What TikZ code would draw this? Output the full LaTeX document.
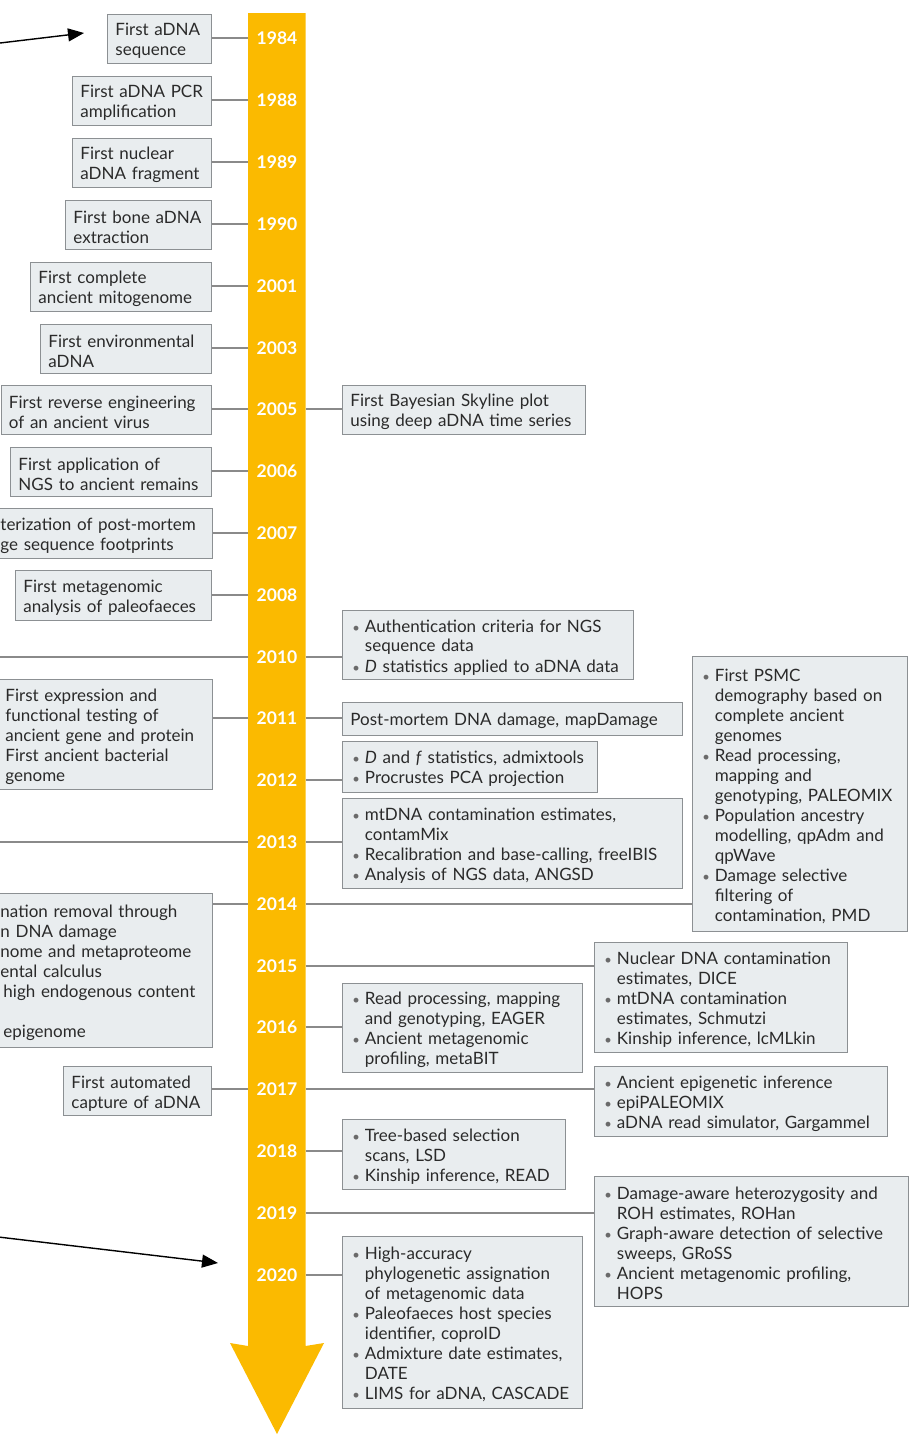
\documentclass[tikz,border=0pt]{standalone}
\usepackage{fontspec}
\usepackage{graphicx}
\setmainfont{Lato}
\usetikzlibrary{arrows.meta}
\definecolor{yel}{HTML}{FBBA00}
\definecolor{boxf}{HTML}{E9EDEF}
\definecolor{boxd}{HTML}{8C9093}
\definecolor{linec}{HTML}{8A8A8A}
\definecolor{txt}{HTML}{2A2A2A}
\definecolor{bulc}{HTML}{6A6A6A}
\newcommand\bu{\makebox[14.5pt][l]{\hspace{2pt}\textcolor{bulc}{\fontsize{13}{13}\selectfont\textbullet}}}
\newcommand\ci{\hspace*{14.5pt}}
\newcommand\tstrut{\rule{0pt}{17pt}}
\tikzset{
  bx/.style 2 args={draw=boxd, fill=boxf, line width=0.9pt, anchor=north west,
    inner xsep=8pt, inner ysep=2pt, align=left, text=txt,
    font=\fontsize{17}{20}\selectfont, text width=#1pt, minimum height=#2pt},
  yr/.style={text=white, font=\bfseries\fontsize{17.5}{18}\selectfont},
  conn/.style={draw=linec, line width=1.1pt},
  blk/.style={draw=black, line width=1.4pt, -{Triangle[length=16pt,width=13pt]}}
}
\begin{document}
\begin{tikzpicture}[x=1pt,y=-1pt]
\useasboundingbox (0,0) rectangle (910,1440);
\clip (0,0) rectangle (910,1440);
% timeline arrow
\fill[yel] (248,13) -- (305.5,13) -- (305.5,1346) -- (324,1343) -- (277,1434) -- (230,1343) -- (248,1346) -- cycle;
\coordinate (barL) at (248,0);
\coordinate (barR) at (305.5,0);
\coordinate (offL) at (-5,0);
% years
\foreach \yy/\pos in {1984/38,1988/100,1989/162,1990/224,2001/286,2003/348,2005/409,2006/471,2007/533,2008/595,2010/657,2011/718,2012/780,2013/842,2014/904,2015/966,2016/1027,2017/1089,2018/1151,2019/1213,2020/1275}
  \node[yr] (y\yy) at (277,\pos) {\yy};
% left boxes
\node[bx={88}{49}] (b84) at (107,14) {\tstrut First aDNA\\sequence};
\node[bx={123}{49}] (b88) at (72,76) {\tstrut First aDNA PCR\\amplification};
\node[bx={123}{49}] (b89) at (72,138) {\tstrut First nuclear\\aDNA fragment};
\node[bx={130}{49}] (b90) at (65,200) {\tstrut First bone aDNA\\extraction};
\node[bx={165}{49}] (b01) at (30,262) {\tstrut First complete\\ancient mitogenome};
\node[bx={155}{49}] (b03) at (40,324) {\tstrut First environmental\\aDNA};
\node[bx={194.5}{49}] (b05) at (0.5,385) {\tstrut First reverse engineering\\of an ancient virus};
\node[bx={185}{49}] (b06) at (10,447) {\tstrut First application of\\NGS to ancient remains};
\node[bx={204}{50}] (b07) at (-8,508) {\tstrut terization of post-mortem\\ge sequence footprints};
\node[bx={180}{50}] (b08) at (15,570) {\tstrut First metagenomic\\analysis of paleofaeces};
\node[bx={199}{110}] (b11) at (-3,679) {\tstrut First expression and\\functional testing of\\ancient gene and protein\\First ancient bacterial\\genome};
\node[bx={204}{154}] (b14) at (-8,893) {\tstrut nation removal through\\n DNA damage\\nome and metaproteome\\ental calculus\\\hspace*{3pt}high endogenous content\\\mbox{}\\\hspace*{3pt}epigenome};
\node[bx={132}{49}] (b17) at (63,1066) {\tstrut First automated\\capture of aDNA};
% right boxes
\node[bx={227}{49}] (r05) at (342,385) {\tstrut First Bayesian Skyline plot\\using deep aDNA time series};
\node[bx={275}{69}] (r10) at (342,610) {\tstrut\bu Authentication criteria for NGS\\\ci sequence data\\\bu \emph{D} statistics applied to aDNA data};
\node[bx={324}{33}] (r11) at (342,702) {\tstrut Post-mortem DNA damage, mapDamage};
\node[bx={239}{51}] (r12) at (342,741) {\tstrut\bu \emph{D} and \emph{f} statistics, admixtools\\\bu Procrustes PCA projection};
\node[bx={324}{90}] (r13) at (342,798) {\tstrut\bu mtDNA contamination estimates,\\\ci contamMix\\\bu Recalibration and base-calling, freeIBIS\\\bu Analysis of NGS data, ANGSD};
\node[bx={199}{275}] (r14) at (692,656) {\tstrut\bu First PSMC\\\ci demography based on\\\ci complete ancient\\\ci genomes\\\bu Read processing,\\\ci mapping and\\\ci genotyping, PALEOMIX\\\bu Population ancestry\\\ci modelling, qpAdm and\\\ci qpWave\\\bu Damage selective\\\ci filtering of\\\ci contamination, PMD};
\node[bx={237}{110}] (r15) at (594,942) {\tstrut\bu Nuclear DNA contamination\\\ci estimates, DICE\\\bu mtDNA contamination\\\ci estimates, Schmutzi\\\bu Kinship inference, lcMLkin};
\node[bx={224}{89}] (r16) at (342,983) {\tstrut\bu Read processing, mapping\\\ci and genotyping, EAGER\\\bu Ancient metagenomic\\\ci profiling, metaBIT};
\node[bx={277}{70}] (r17) at (594,1066) {\tstrut\bu Ancient epigenetic inference\\\bu epiPALEOMIX\\\bu aDNA read simulator, Gargammel};
\node[bx={207}{70}] (r18) at (342,1119) {\tstrut\bu Tree-based selection\\\ci scans, LSD\\\bu Kinship inference, READ};
\node[bx={298}{130}] (r19) at (594,1176) {\tstrut\bu Damage-aware heterozygosity and\\\ci ROH estimates, ROHan\\\bu Graph-aware detection of selective\\\ci sweeps, GRoSS\\\bu Ancient metagenomic profiling,\\\ci HOPS};
\node[bx={224}{172}] (r20) at (342,1236) {\tstrut\bu High-accuracy\\\ci phylogenetic assignation\\\ci of metagenomic data\\\bu Paleofaeces host species\\\ci identifier, coproID\\\bu Admixture date estimates,\\\ci DATE\\\bu LIMS for aDNA, CASCADE};
% left connectors
\foreach \b/\yy in {b84/1984,b88/1988,b89/1989,b90/1990,b01/2001,b03/2003,b05/2005,b06/2006,b07/2007,b08/2008,b11/2011,b14/2014,b17/2017}
  \draw[conn] (y\yy -| \b.east) -- (y\yy -| barL);
\draw[conn] (y2010 -| barL) -- (y2010 -| offL);
\draw[conn] (y2013 -| barL) -- (y2013 -| offL);
% right connectors
\foreach \b/\yy in {r05/2005,r10/2010,r11/2011,r12/2012,r13/2013,r14/2014,r15/2015,r16/2016,r17/2017,r18/2018,r19/2019,r20/2020}
  \draw[conn] (y\yy -| barR) -- (y\yy -| \b.west);
% black arrows
\coordinate (a1s) at (-10,44.2);
\coordinate (a1e) at (84,33);
\coordinate (a2s) at (-10,1236);
\coordinate (a2e) at (218,1263);
\draw[blk] (a1s) -- (a1e);
\draw[blk] (a2s) -- (a2e);
\end{tikzpicture}
\end{document}
